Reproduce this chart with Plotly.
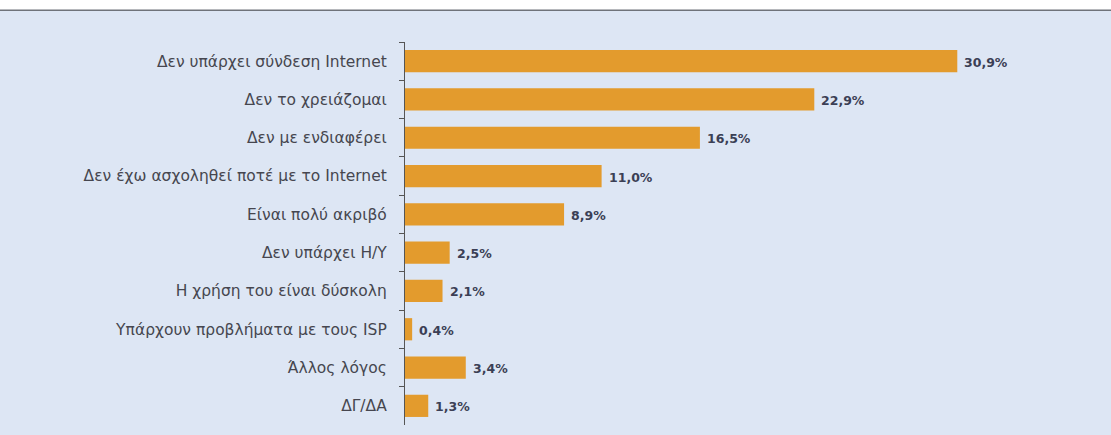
import plotly.graph_objects as go

# Reasons for not using the Internet (share of respondents, %)
categories = [
    "Δεν υπάρχει σύνδεση Internet",
    "Δεν το χρειάζομαι",
    "Δεν με ενδιαφέρει",
    "Δεν έχω ασχοληθεί ποτέ με το Internet",
    "Είναι πολύ ακριβό",
    "Δεν υπάρχει Η/Υ",
    "Η χρήση του είναι δύσκολη",
    "Υπάρχουν προβλήματα με τους ISP",
    "Άλλος λόγος",
    "ΔΓ/ΔΑ",
]
values = [30.9, 22.9, 16.5, 11.0, 8.9, 2.5, 2.1, 0.4, 3.4, 1.3]

# Greek-style decimal comma for the value labels
value_labels = [f"{v:.1f}".replace(".", ",") + "%" for v in values]

BG = "#dde6f4"
BAR = "#e39b2d"
TEXT = "#46464f"
VALUE_TEXT = "#3b3f55"

fig = go.Figure(
    go.Bar(
        x=values,
        y=categories,
        orientation="h",
        marker=dict(color=BAR, line=dict(width=0)),
        width=0.58,
        cliponaxis=False,
        hoverinfo="x+y",
    )
)

# value labels just past the end of each bar
annotations = [
    dict(
        x=v, y=c, xref="x", yref="y",
        text=t, showarrow=False,
        xanchor="left", yanchor="middle", xshift=5, yshift=-1,
        font=dict(family="DejaVu Sans", size=12.5, color=VALUE_TEXT, weight="bold"),
    )
    for v, c, t in zip(values, categories, value_labels)
]

fig.update_layout(
    width=1111,
    height=435,
    margin=dict(l=405, r=0, t=42, b=10),
    paper_bgcolor=BG,
    plot_bgcolor=BG,
    showlegend=False,
    font=dict(family="DejaVu Sans", size=14, color=TEXT),
    xaxis=dict(
        range=[0, 39.5],
        visible=False,
        fixedrange=True,
    ),
    yaxis=dict(
        type="category",
        autorange="reversed",
        showline=True,
        linecolor="#555555",
        linewidth=1.2,
        ticks="outside",
        tickson="boundaries",
        ticklen=5,
        tickcolor="#555555",
        tickwidth=1.2,
        ticklabelstandoff=14,
        tickfont=dict(family="DejaVu Sans", size=15.5, color=TEXT),
        showgrid=False,
        zeroline=False,
    ),
    annotations=annotations,
    shapes=[
        # white strip across the top with a thin rule beneath it
        dict(
            type="rect", xref="paper", yref="paper",
            x0=-0.6, x1=1.01, y0=1.083, y1=1.2,
            fillcolor="white", line=dict(width=0), layer="above",
        ),
        dict(
            type="line", xref="paper", yref="paper",
            x0=-0.6, x1=1.01, y0=1.083, y1=1.083,
            line=dict(color="#6f737a", width=1.5), layer="above",
        ),
    ],
)

fig.write_html("out.html")
